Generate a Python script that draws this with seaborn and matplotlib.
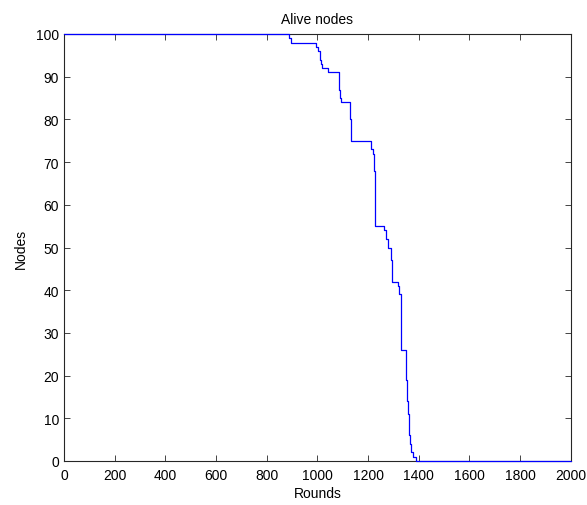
import matplotlib
matplotlib.use("Agg")
import matplotlib.pyplot as plt
import seaborn as sns
import pandas as pd

# Step changes in the number of alive nodes (round at which the count changes, count after it)
rounds = [0, 888, 897, 995, 1003, 1009, 1012, 1015, 1019, 1043, 1085, 1087, 1089, 1094,
          1128, 1133, 1134, 1213, 1220, 1222, 1224, 1226, 1228, 1229, 1264, 1272, 1277,
          1290, 1294, 1318, 1323, 1329, 1331, 1350, 1352, 1355, 1357, 1360, 1363, 1366,
          1370, 1377, 1388, 2000]
nodes = [100, 99, 98, 97, 96, 95, 94, 93, 92, 91, 89, 87, 85, 84,
         80, 79, 75, 73, 72, 71, 68, 62, 57, 55, 54, 52, 50,
         47, 42, 41, 39, 33, 26, 19, 17, 14, 11, 8, 6, 4,
         2, 1, 0, 0]

x_ticks = list(range(0, 2001, 200))
y_ticks = list(range(0, 101, 10))

title = "Alive nodes"
x_label = "Rounds"
y_label = "Nodes"

df = pd.DataFrame({"Rounds": rounds, "Nodes": nodes})

sns.set_style("white")
plt.rcParams["font.family"] = ["Liberation Sans", "DejaVu Sans"]
plt.rcParams["font.size"] = 10
plt.rcParams["text.color"] = "black"
plt.rcParams["axes.labelcolor"] = "black"

fig = plt.figure(figsize=(5.87, 5.06), dpi=100)
ax = fig.add_axes([64 / 587, 44 / 506, 506.7 / 587, 427 / 506])

sns.lineplot(data=df, x="Rounds", y="Nodes", ax=ax, color="#0000ff",
             drawstyle="steps-post", linewidth=0.9, estimator=None,
             clip_on=False, zorder=5)

ax.set_xlim(0, 2000)
ax.set_ylim(0, 100)
ax.set_xticks(x_ticks)
ax.set_yticks(y_ticks)
ax.set_xticklabels([str(v) for v in x_ticks])
ax.set_yticklabels([str(v) for v in y_ticks])

ax.tick_params(axis="both", which="both", direction="in", length=4, width=0.6,
               color="#262626", labelsize=10, labelcolor="black",
               top=True, right=True, bottom=True, left=True)
ax.tick_params(axis="x", pad=5)
ax.tick_params(axis="y", pad=3.5)

for s in ax.spines.values():
    s.set_visible(True)
    s.set_color("#262626")
    s.set_linewidth(0.8)

ax.set_title(title, fontsize=10, pad=8, color="black")
ax.set_xlabel(x_label, fontsize=10, labelpad=3, color="black")
ax.set_ylabel(y_label, fontsize=10, labelpad=6, color="black")
ax.grid(False)

fig.savefig("out.png", dpi=100)
